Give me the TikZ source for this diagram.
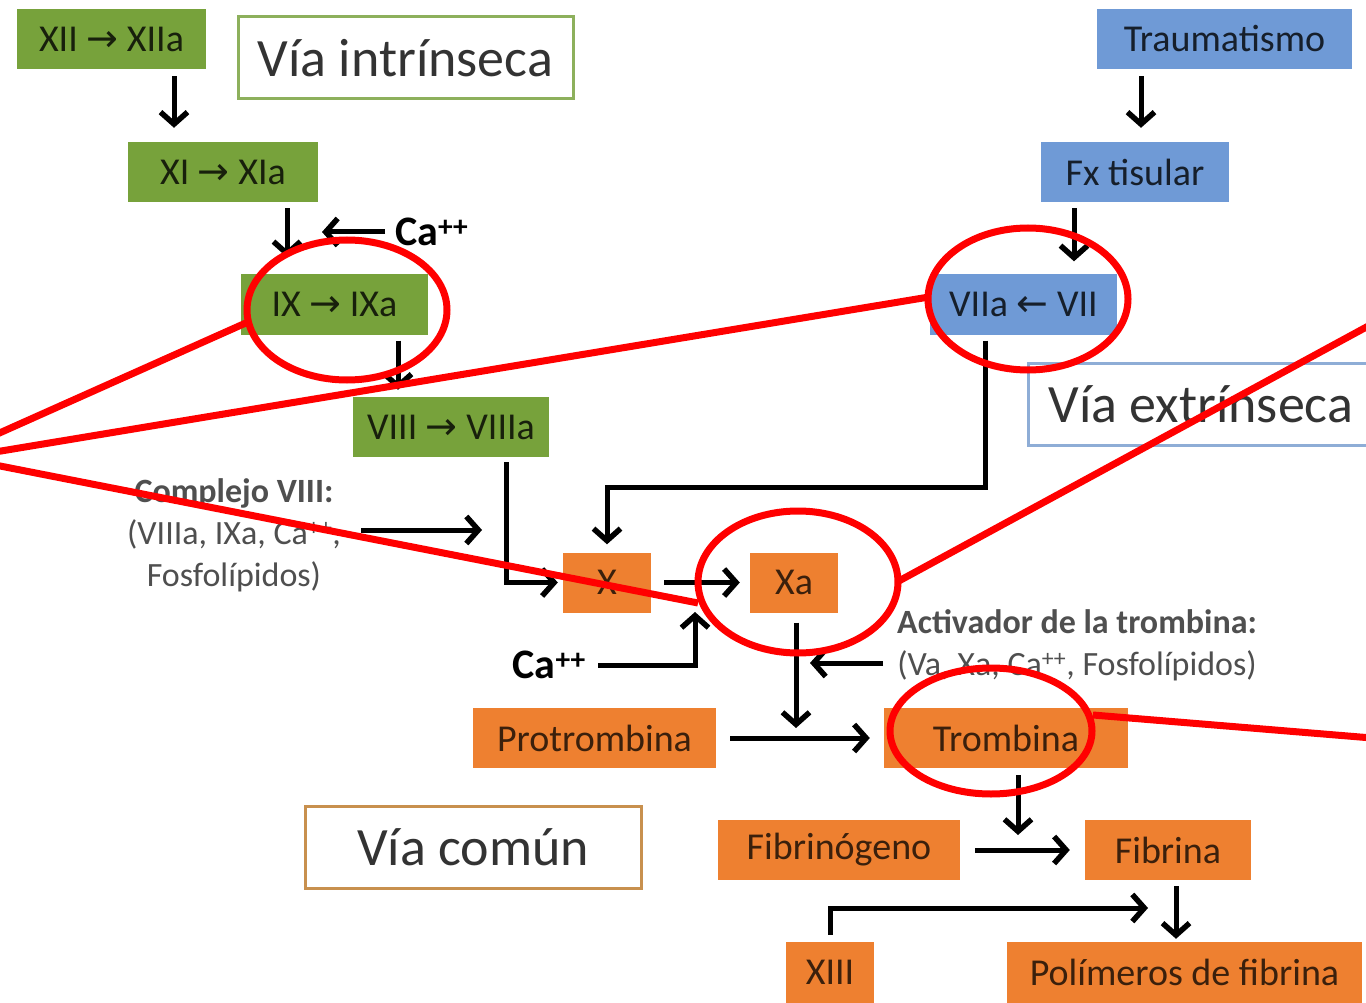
\documentclass[tikz,border=0pt]{standalone}
\usepackage{fontspec}
\setmainfont{Carlito}
\newfontfamily\simbolos{DejaVu Sans}
\usetikzlibrary{arrows.meta,positioning,calc}
\definecolor{verdeA}{HTML}{77A23B}
\definecolor{azulA}{HTML}{6F9AD6}
\definecolor{naranjaA}{HTML}{EE8030}
\definecolor{bordeVerde}{HTML}{8DB05C}
\definecolor{bordeAzul}{HTML}{8EADD6}
\definecolor{bordeNaranja}{HTML}{C8904E}
\definecolor{textoGris}{HTML}{4F4F4F}
\definecolor{marcaRoja}{HTML}{FF0000}
\newcommand{\fder}{{\simbolos →}}
\newcommand{\fizq}{{\simbolos ←}}

\begin{document}
\begin{tikzpicture}[x=1pt,y=-1pt,
  paso/.style={inner sep=0pt,minimum height=60pt,font=\fontsize{38}{40}\selectfont},
  verde/.style={paso,fill=verdeA,text=verdeA!20!black},
  azul/.style={paso,fill=azulA,text=azulA!20!black},
  naranja/.style={paso,fill=naranjaA,text=naranjaA!25!black},
  via/.style={draw,line width=3pt,fill=white,inner sep=0pt,minimum height=82pt,text=black!80,font=\fontsize{54}{56}\selectfont},
  nota/.style={align=center,inner sep=0pt,text=textoGris,font=\fontsize{34}{42}\selectfont},
  calcio/.style={inner sep=0pt,font=\bfseries\fontsize{42}{44}\selectfont},
  flecha/.style={line width=5pt,-{Straight Barb[length=12pt,width=27pt,line width=5.5pt]}},
  marca/.style={marcaRoja,line width=7pt}]
\fill[white] (0,0) rectangle (1366,1003);
\useasboundingbox (0,0) rectangle (1366,1003);

% via intrinseca
\node[verde,minimum width=189pt] (xii) at (111.5,39) {XII \fder{} XIIa};
\node[verde,minimum width=190pt] (xi) at (223,172) {XI \fder{} XIa};
\node[verde,minimum width=187pt] (ix) at (334.5,304.5) {IX \fder{} IXa};
\node[verde,minimum width=196pt] (viii) at (451,427) {VIII \fder{} VIIIa};
\node[via,draw=bordeVerde,minimum width=335pt] (intr) at (405.5,58) {Vía intrínseca};
\node[calcio,anchor=west] (ca1) at (395,232) {Ca\textsuperscript{++}};
\node[nota] (complejo) at (234,535) {\textbf{Complejo VIII:}\\(VIIIa, IXa, Ca\textsuperscript{++},\\Fosfolípidos)};

% via extrinseca
\node[azul,minimum width=255pt] (trauma) at (1224.5,39) {Traumatismo};
\node[azul,minimum width=188pt] (fx) at (1135,172) {Fx tisular};
\node[azul,minimum width=187pt] (viia) at (1023.5,304.5) {VIIa \fizq{} VII};
\node[via,draw=bordeAzul,minimum width=345pt,anchor=west] (extr) at (1027,404) {Vía extrínseca};

% via comun
\node[naranja,minimum width=88pt] (x) at (607,582.5) {X};
\node[naranja,minimum width=88pt] (xa) at (794,582.5) {Xa};
\node[calcio,anchor=east] (ca2) at (586,665) {Ca\textsuperscript{++}};
\node[nota,anchor=west] (activ) at (897,645) {\textbf{Activador de la trombina:}\\(Va, Xa, Ca\textsuperscript{++}, Fosfolípidos)};
\node[naranja,minimum width=243pt] (protro) at (594.5,738) {Protrombina};
\node[naranja,minimum width=244pt] (trombina) at (1006,738) {Trombina};
\node[naranja,minimum width=242pt] (fibrinog) at (839,850) {Fibrinógeno};
\node[naranja,minimum width=166pt] (fibrina) at (1168,850) {Fibrina};
\node[naranja,minimum width=88pt,minimum height=61pt] (xiii) at (830,972.5) {XIII};
\node[naranja,minimum width=355pt,minimum height=61pt] (polim) at (1184.5,972.5) {Polímeros de fibrina};
\node[via,draw=bordeNaranja,minimum width=336pt] (comun) at (473,847.5) {Vía común};

\coordinate (codoA) at (0,487);
\coordinate (ca1fin) at (322,232);
\coordinate (cpfin) at (482,530);
\coordinate (ca2fin) at (695,612);
\coordinate (xafin) at (796,728);
\coordinate (actfin) at (810,663);
\coordinate (trfin) at (1018,835);
\coordinate (xiiifin) at (1148,908);

% flechas
\draw[flecha,shorten <=7pt,shorten >=14pt] ([xshift=62.5pt]xii.south) -- ([xshift=-49pt]xi.north);
\draw[flecha,shorten <=6pt,shorten >=17pt] ([xshift=64pt]xi.south) -- ([xshift=-47.5pt]ix.north);
\draw[flecha,shorten <=10pt] (ca1.west |- ca1fin) -- (ca1fin);
\draw[flecha,shorten <=6pt,shorten >=7pt] ([xshift=63.5pt]ix.south) -- ([xshift=-53pt]viii.north);
\draw[flecha,shorten <=7pt,shorten >=14pt] ([xshift=-83.5pt]trauma.south) -- ([xshift=6pt]fx.north);
\draw[flecha,shorten <=6pt,shorten >=13pt] ([xshift=-61pt]fx.south) -- ([xshift=50.5pt]viia.north);
\draw[flecha,shorten <=6pt,shorten >=8pt] ([xshift=-38.5pt]viia.south) -- ([xshift=-38.5pt]viia.south |- codoA) -| (x.north);
\draw[flecha,shorten <=5pt,shorten >=5pt] ([xshift=55pt]viii.south) |- (x.west);
\draw[flecha,shorten <=20pt] (complejo.east |- cpfin) -- (cpfin);
\draw[flecha,shorten <=13pt,shorten >=10pt] (x) -- (xa);
\draw[flecha,shorten <=12pt] (ca2.east) -| (ca2fin);
\draw[flecha,shorten <=10pt] ([xshift=2pt]xa.south) -- (xafin);
\draw[flecha,shorten <=14pt] (activ.west |- actfin) -- (actfin);
\draw[flecha,shorten <=14pt,shorten >=14pt] (protro) -- (trombina);
\draw[flecha,shorten <=7pt] ([xshift=12pt]trombina.south) -- (trfin);
\draw[flecha,shorten <=15pt,shorten >=15pt] (fibrinog) -- (fibrina);
\draw[flecha,shorten <=7pt] (xiii.north) |- (xiiifin);
\draw[flecha,shorten <=6pt,shorten >=3pt] ([xshift=8pt]fibrina.south) -- ([xshift=-8.5pt]polim.north);

% marcas rojas
\draw[marca] (347,310) ellipse [x radius=100,y radius=70];
\draw[marca] (1028,299) ellipse [x radius=100,y radius=71];
\draw[marca] (798,582) ellipse [x radius=100,y radius=71];
\draw[marca] (991,731) ellipse [x radius=101,y radius=63];
\draw[marca] (-5,435) -- (248,322);
\draw[marca] (-5,452) -- (929,297);
\draw[marca] (-5,465) -- (698,603);
\draw[marca] (897,582) -- (1372,324);
\draw[marca] (1093,715) -- (1372,738);
\end{tikzpicture}
\end{document}
